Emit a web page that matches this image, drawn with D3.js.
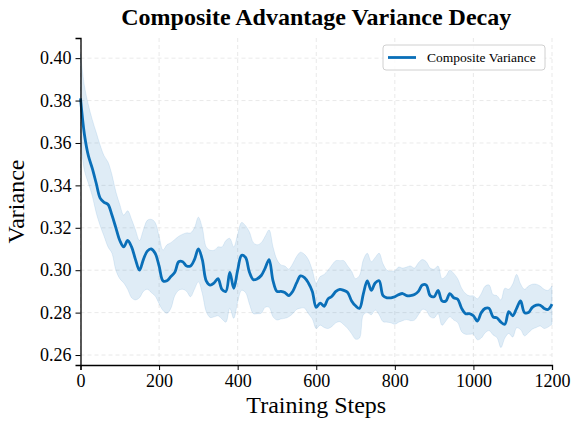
<!DOCTYPE html>
<html>
<head>
<meta charset="utf-8">
<script src="https://cdn.jsdelivr.net/npm/d3@7"></script>
<style>
  body { margin: 0; background: #fff; }
  svg { display: block; }
</style>
</head>
<body>
<div id="chartContainer"></div>
<script>
// sampled training steps (every 10 steps)
const steps = d3.range(0, 1201, 10);

const meanVariance = [
  0.381, 0.364, 0.354, 0.348, 0.341, 0.334, 0.332, 0.331, 0.326, 0.320,
  0.314, 0.311, 0.314, 0.311, 0.305, 0.300, 0.305, 0.309, 0.310, 0.308,
  0.302, 0.295, 0.295, 0.297, 0.299, 0.304, 0.304, 0.302, 0.302, 0.305,
  0.310, 0.305, 0.295, 0.293, 0.294, 0.296, 0.291, 0.290, 0.299, 0.2915,
  0.300, 0.307, 0.306, 0.299, 0.2955, 0.296, 0.2975, 0.301, 0.305, 0.295,
  0.290, 0.290, 0.2895, 0.288, 0.290, 0.294, 0.2973, 0.2965, 0.294, 0.290,
  0.2825, 0.2845, 0.283, 0.2865, 0.2877, 0.290, 0.291, 0.2905, 0.2895, 0.2855,
  0.2832, 0.282, 0.289, 0.295, 0.2905, 0.294, 0.295, 0.288, 0.287, 0.287,
  0.2875, 0.2885, 0.289, 0.288, 0.288, 0.2885, 0.290, 0.293, 0.293, 0.288,
  0.2875, 0.2905, 0.2855, 0.2855, 0.289, 0.287, 0.2863, 0.282, 0.2795, 0.2795,
  0.2785, 0.276, 0.280, 0.282, 0.282, 0.278, 0.2775, 0.2755, 0.2745, 0.2805,
  0.2785, 0.282, 0.2855, 0.280, 0.280, 0.2825, 0.2835, 0.2835, 0.282, 0.2815,
  0.284
];

const upperBand = [
  0.402, 0.387, 0.378, 0.371, 0.365, 0.359, 0.354, 0.351, 0.345, 0.337,
  0.331, 0.326, 0.328, 0.324, 0.319, 0.314, 0.319, 0.3235, 0.324, 0.3225,
  0.316, 0.3095, 0.312, 0.313, 0.3145, 0.316, 0.317, 0.3176, 0.3176, 0.320,
  0.325, 0.320, 0.311, 0.3094, 0.3094, 0.311, 0.311, 0.314, 0.315, 0.311,
  0.317, 0.3225, 0.321, 0.318, 0.313, 0.312, 0.313, 0.316, 0.319, 0.311,
  0.305, 0.3025, 0.302, 0.3005, 0.303, 0.3065, 0.3085, 0.3075, 0.305, 0.300,
  0.294, 0.297, 0.298, 0.300, 0.3025, 0.3045, 0.3045, 0.3045, 0.302, 0.2995,
  0.296, 0.2975, 0.305, 0.308, 0.304, 0.306, 0.308, 0.303, 0.300, 0.2995,
  0.2998, 0.3015, 0.301, 0.3015, 0.302, 0.301, 0.3035, 0.305, 0.304, 0.301,
  0.3005, 0.302, 0.296, 0.2973, 0.300, 0.2985, 0.296, 0.2915, 0.289, 0.2879,
  0.2879, 0.2865, 0.289, 0.2925, 0.293, 0.2885, 0.288, 0.286, 0.2915, 0.291,
  0.2935, 0.298, 0.2935, 0.291, 0.2925, 0.2934, 0.2934, 0.2925, 0.291, 0.2905,
  0.2926
];

const lowerBand = [
  0.362, 0.347, 0.341, 0.335, 0.327, 0.321, 0.316, 0.311, 0.308, 0.300,
  0.296, 0.294, 0.291, 0.287, 0.286, 0.287, 0.290, 0.291, 0.2895, 0.2878,
  0.2842, 0.281, 0.2797, 0.282, 0.288, 0.2905, 0.291, 0.290, 0.2875, 0.291,
  0.2945, 0.289, 0.2805, 0.2777, 0.278, 0.2785, 0.277, 0.2755, 0.282, 0.2773,
  0.285, 0.2905, 0.2895, 0.284, 0.2795, 0.2795, 0.2797, 0.2825, 0.2825, 0.278,
  0.2765, 0.277, 0.2773, 0.278, 0.2795, 0.2815, 0.2821, 0.2821, 0.2795, 0.277,
  0.2725, 0.2741, 0.273, 0.2725, 0.2735, 0.2752, 0.2757, 0.2743, 0.2725, 0.270,
  0.2675, 0.268, 0.279, 0.280, 0.279, 0.2812, 0.279, 0.2757, 0.2755, 0.2752,
  0.2745, 0.2755, 0.2762, 0.2767, 0.2762, 0.2765, 0.279, 0.2815, 0.281, 0.278,
  0.2775, 0.2795, 0.274, 0.2761, 0.278, 0.2765, 0.2753, 0.271, 0.2698, 0.2698,
  0.2698, 0.2672, 0.268, 0.2705, 0.2715, 0.2695, 0.2682, 0.2635, 0.268, 0.2702,
  0.2685, 0.2728, 0.272, 0.269, 0.2705, 0.2722, 0.273, 0.2737, 0.2725, 0.2732,
  0.2745
];

const xTicks = [0, 200, 400, 600, 800, 1000, 1200];
const yTicks = [0.26, 0.28, 0.30, 0.32, 0.34, 0.36, 0.38, 0.40];

const lineColor = "#0a6fb8";
const font = "Liberation Serif, Times New Roman, serif";

const margin = { top: 38, right: 22, bottom: 56, left: 80.5 };
const W = 574, H = 421;
const width = W - margin.left - margin.right;
const height = H - margin.top - margin.bottom;

const rows = steps.map((s, i) => ({
  step: s, mean: meanVariance[i], hi: upperBand[i], lo: lowerBand[i]
}));

const svg = d3.select("#chartContainer").append("svg")
  .attr("width", W)
  .attr("height", H)
  .attr("font-family", font);

const g = svg.append("g")
  .attr("transform", `translate(${margin.left},${margin.top})`);

const x = d3.scaleLinear().domain([0, 1200]).range([0, width]);
const y = d3.scaleLinear().domain([0.2553, 0.4095]).range([height, 0]);

// grid
g.append("g")
  .selectAll("line")
  .data(xTicks)
  .join("line")
  .attr("x1", d => x(d)).attr("x2", d => x(d))
  .attr("y1", 0).attr("y2", height)
  .attr("stroke", "#e3e3e3")
  .attr("stroke-width", 0.8)
  .attr("stroke-dasharray", "4,3");

g.append("g")
  .selectAll("line")
  .data(yTicks)
  .join("line")
  .attr("x1", 0).attr("x2", width)
  .attr("y1", d => y(d)).attr("y2", d => y(d))
  .attr("stroke", "#e3e3e3")
  .attr("stroke-width", 0.8)
  .attr("stroke-dasharray", "4,3");

// band
const area = d3.area()
  .x(d => x(d.step))
  .y0(d => y(d.lo))
  .y1(d => y(d.hi))
  .curve(d3.curveCatmullRom);

g.append("path")
  .datum(rows)
  .attr("d", area)
  .attr("fill", lineColor)
  .attr("fill-opacity", 0.13)
  .attr("stroke", lineColor)
  .attr("stroke-opacity", 0.1)
  .attr("stroke-width", 1);

// mean line
const line = d3.line()
  .x(d => x(d.step))
  .y(d => y(d.mean))
  .curve(d3.curveCatmullRom);

g.append("path")
  .datum(rows)
  .attr("d", line)
  .attr("fill", "none")
  .attr("stroke", lineColor)
  .attr("stroke-width", 2.8)
  .attr("stroke-linejoin", "round");

// axes
const xAxis = g.append("g")
  .attr("transform", `translate(0,${height})`)
  .call(d3.axisBottom(x).tickValues(xTicks).tickFormat(d3.format("d"))
    .tickSizeOuter(0).tickSize(5).tickPadding(4));

const yAxis = g.append("g")
  .call(d3.axisLeft(y).tickValues(yTicks).tickFormat(d3.format(".2f"))
    .tickSizeOuter(0).tickSize(5).tickPadding(4));

[xAxis, yAxis].forEach(a => {
  a.attr("font-family", font).attr("font-size", 18);
  a.select(".domain").attr("stroke", "#000").attr("stroke-width", 1.3);
  a.selectAll(".tick line").attr("stroke", "#000").attr("stroke-width", 1);
  a.selectAll(".tick text").attr("fill", "#000");
});

// labels
svg.append("text")
  .attr("x", margin.left + width / 2)
  .attr("y", 25)
  .attr("text-anchor", "middle")
  .attr("font-size", 24)
  .attr("font-weight", "bold")
  .text("Composite Advantage Variance Decay");

svg.append("text")
  .attr("x", margin.left + width / 2)
  .attr("y", 413)
  .attr("text-anchor", "middle")
  .attr("font-size", 24)
  .text("Training Steps");

svg.append("text")
  .attr("transform", `translate(24,${margin.top + height / 2}) rotate(-90)`)
  .attr("text-anchor", "middle")
  .attr("font-size", 24)
  .text("Variance");

// legend
const legend = svg.append("g").attr("transform", "translate(383,45)");
legend.append("rect")
  .attr("width", 162).attr("height", 25)
  .attr("rx", 3)
  .attr("fill", "#fff")
  .attr("fill-opacity", 0.85)
  .attr("stroke", "#d0d0d0")
  .attr("stroke-width", 1);
legend.append("line")
  .attr("x1", 5).attr("x2", 33)
  .attr("y1", 12.5).attr("y2", 12.5)
  .attr("stroke", lineColor)
  .attr("stroke-width", 2.8);
legend.append("text")
  .attr("x", 44).attr("y", 17)
  .attr("font-size", 13.5)
  .text("Composite Variance");
</script>
</body>
</html>
